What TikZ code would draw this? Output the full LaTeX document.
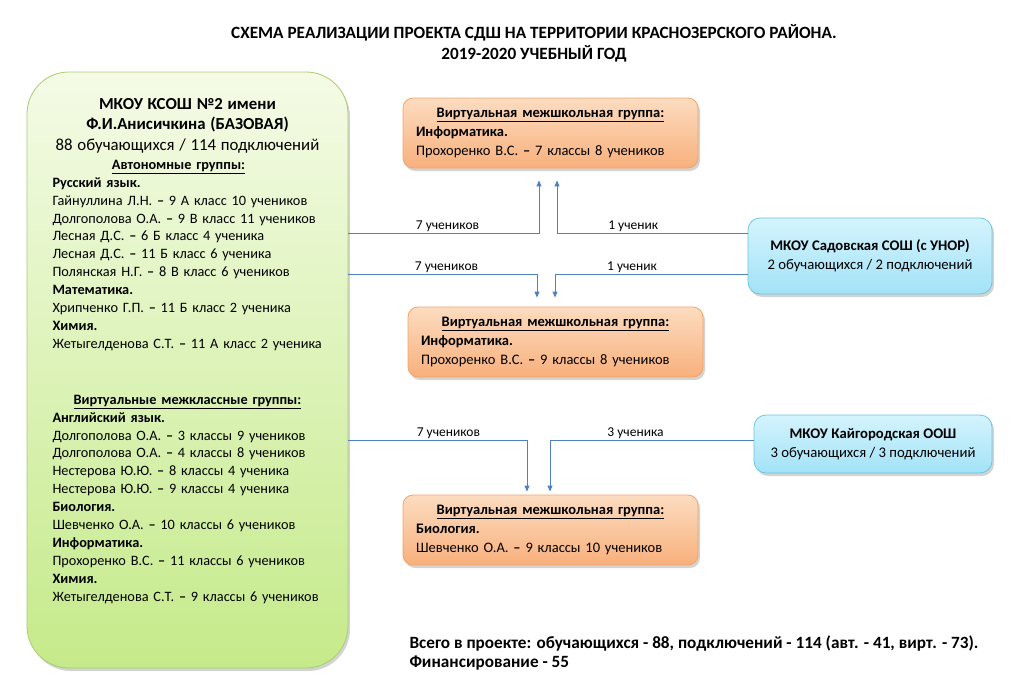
\documentclass[tikz,border=0pt]{standalone}
\usepackage{fontspec}
\setmainfont{Carlito}
\usetikzlibrary{arrows.meta,shadows}

\definecolor{greenTop}{HTML}{F4FBE6}
\definecolor{greenBot}{HTML}{C5EA8A}
\definecolor{greenEdge}{HTML}{A9CD6E}
\definecolor{orangeTop}{HTML}{FCDCC0}
\definecolor{orangeBot}{HTML}{F8B07C}
\definecolor{orangeEdge}{HTML}{F3A46A}
\definecolor{blueTop}{HTML}{D4F4FD}
\definecolor{blueBot}{HTML}{A2E2F7}
\definecolor{blueEdge}{HTML}{6DC6E0}
\definecolor{linkBlue}{HTML}{4F81BD}

\newcommand{\bodyfont}{\fontsize{14.3}{17.9}\selectfont}
\newcommand{\headfont}{\fontsize{16.8}{20.5}\selectfont}

\begin{document}
\begin{tikzpicture}[x=1pt, y=-1pt,
  every node/.style={font=\bodyfont},
  shade/.style={drop shadow={opacity=0.35, shadow xshift=2pt, shadow yshift=-3pt}},
  basebox/.style={shade, draw=greenEdge, line width=0.8pt, rounded corners=42pt,
    top color=greenTop, bottom color=greenBot,
    minimum width=321pt, minimum height=596pt, text width=270pt, align=left},
  groupbox/.style={shade, draw=orangeEdge, line width=0.8pt, rounded corners=10pt,
    top color=orangeTop, bottom color=orangeBot,
    minimum width=295pt, minimum height=70pt, text width=269pt, align=left,
    font=\fontsize{14.5}{19.3}\selectfont},
  schoolbox/.style={shade, draw=blueEdge, line width=0.8pt, rounded corners=12pt,
    top color=blueTop, bottom color=blueBot, align=center,
    font=\fontsize{14.7}{19}\selectfont},
  link/.style={draw=linkBlue, line width=0.9pt, -{Triangle[length=6pt,width=5pt]}},
  count/.style={font=\fontsize{13.5}{14}\selectfont, above, inner sep=0.5pt},
]
  \useasboundingbox (0,0) rectangle (1021,699);

  %% Title
  \node[align=center, font=\fontsize{17.2}{21}\selectfont\bfseries] (title) at (534,43)
    {СХЕМА РЕАЛИЗАЦИИ ПРОЕКТА СДШ НА ТЕРРИТОРИИ КРАСНОЗЕРСКОГО РАЙОНА.\\2019-2020 УЧЕБНЫЙ ГОД};

  %% Base school (left)
  \node[basebox] (base) at (187.5,370) {%
    {\headfont\centering\bfseries МКОУ КСОШ №2 имени\\Ф.И.Анисичкина (БАЗОВАЯ)\\
     \mdseries 88 обучающихся / 114 подключений\par}
    \vspace{1pt}
    {\centering\bfseries\hspace*{-18pt}\underline{Автономные группы:}\par}
    \textbf{Русский язык.}\\
    Гайнуллина Л.Н. \textbf{–} 9 А класс 10 учеников\\
    Долгополова О.А. \textbf{–} 9 В класс 11 учеников\\
    Лесная Д.С. \textbf{–} 6 Б класс 4 ученика\\
    Лесная Д.С. \textbf{–} 11 Б класс 6 ученика\\
    Полянская Н.Г. \textbf{–} 8 В класс 6 учеников\\
    \textbf{Математика.}\\
    Хрипченко Г.П. \textbf{–} 11 Б класс 2 ученика\\
    \textbf{Химия.}\\
    Жетыгелденова С.Т. \textbf{–} 11 А класс 2 ученика\par
    \vspace{38pt}
    {\centering\bfseries\underline{Виртуальные межклассные группы:}\par}
    \textbf{Английский язык.}\\
    Долгополова О.А. \textbf{–} 3 классы 9 учеников\\
    Долгополова О.А. \textbf{–} 4 классы 8 учеников\\
    Нестерова Ю.Ю. \textbf{–} 8 классы 4 ученика\\
    Нестерова Ю.Ю. \textbf{–} 9 классы 4 ученика\\
    \textbf{Биология.}\\
    Шевченко О.А. \textbf{–} 10 классы 6 учеников\\
    \textbf{Информатика.}\\
    Прохоренко В.С. \textbf{–} 11 классы 6 учеников\\
    \textbf{Химия.}\\
    Жетыгелденова С.Т. \textbf{–} 9 классы 6 учеников\par
    \vspace{38pt}\hrule height 0pt};

  %% Virtual inter-school groups
  \node[groupbox] (info1) at (550.5,133) {%
    {\centering\bfseries\underline{Виртуальная межшкольная группа:}\par}
    \textbf{Информатика.}\\
    Прохоренко В.С. \textbf{–} 7 классы 8 учеников};
  \node[groupbox] (info2) at (555.5,342) {%
    {\centering\bfseries\underline{Виртуальная межшкольная группа:}\par}
    \textbf{Информатика.}\\
    Прохоренко В.С. \textbf{–} 9 классы 8 учеников};
  \node[groupbox] (bio) at (550.5,530) {%
    {\centering\bfseries\underline{Виртуальная межшкольная группа:}\par}
    \textbf{Биология.}\\
    Шевченко О.А. \textbf{–} 9 классы 10 учеников};

  %% Partner schools (right)
  \node[schoolbox, minimum width=244pt, minimum height=76pt] (sad) at (870,256)
    {\textbf{МКОУ Садовская СОШ (с УНОР)}\\2 обучающихся / 2 подключений};
  \node[schoolbox, minimum width=238pt, minimum height=58pt] (kai) at (873,444)
    {\textbf{МКОУ Кайгородская ООШ}\\3 обучающихся / 3 подключений};

  \coordinate (sadUp) at ([yshift=23pt]sad.west);
  \coordinate (sadDn) at ([yshift=-18pt]sad.west);
  \coordinate (kaiIn) at ([yshift=4pt]kai.west);

  %% Connectors
  \draw[link, shorten >=12pt] (base.east |- sadUp) -| ([xshift=-11.5pt]info1.south)
    node[count, pos=0.26] {7 учеников};
  \draw[link, shorten >=12pt] (sadUp) -| ([xshift=6.5pt]info1.south)
    node[count, pos=0.3] {1 ученик};
  \draw[link, shorten >=9pt] (base.east |- sadDn) -| ([xshift=-18.5pt]info2.north)
    node[count, pos=0.26] {7 учеников};
  \draw[link, shorten >=9pt] (sadDn) -| ([xshift=-0.5pt]info2.north)
    node[count, pos=0.3] {1 ученик};
  \draw[link, shorten >=3pt] (base.east |- kaiIn) -| ([xshift=-23.5pt]bio.north)
    node[count, pos=0.28] {7 учеников};
  \draw[link, shorten >=3pt] (kaiIn) -| ([xshift=-0.5pt]bio.north)
    node[count, pos=0.29] {3 ученика};

  %% Totals
  \node[anchor=west, align=left, font=\fontsize{17.2}{19.5}\selectfont\bfseries] (total) at (406,653)
    {Всего в проекте: обучающихся - 88, подключений - 114 (авт. - 41, вирт. - 73).\\Финансирование - 55};
\end{tikzpicture}
\end{document}
